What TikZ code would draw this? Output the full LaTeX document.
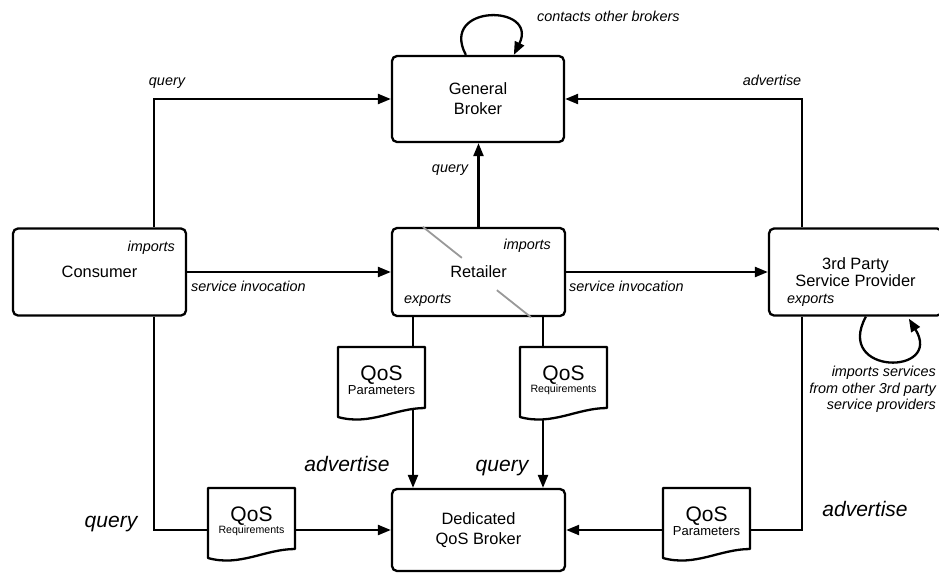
\documentclass[tikz,border=0pt]{standalone}
\usepackage{fontspec}
\setmainfont{Liberation Sans}
\usetikzlibrary{arrows.meta,calc}

% A QoS document: sheet with a wavy lower edge, and its two-line caption
\newcommand\qosdoc[4]{%
  \begin{scope}[shift={(#2,#3)}]
    \draw[docline] (0,0) -- (87,0) -- (87,61)
      .. controls (57,61) and (32,79) .. (0,70) -- cycle;
    \node[doctext, anchor=north] (#1) at (43.5,19)
      {{\fontsize{21}{21}\selectfont QoS}\\#4};
  \end{scope}}

\begin{document}
\begin{tikzpicture}[x=1pt, y=-1pt,
  box/.style={draw, rounded corners=5pt, line width=2.3pt, align=center,
    inner sep=0pt, font=\fontsize{16.4}{20}\selectfont},
  flow/.style={line width=2.3pt, -{Triangle[length=13pt,width=10pt]}},
  docline/.style={draw, fill=white, line width=2.3pt, line join=round},
  doctext/.style={align=center, inner sep=0pt},
  paramfont/.style={font=\fontsize{13}{16}\selectfont},
  reqfont/.style={font=\fontsize{10.6}{15}\selectfont},
  greyline/.style={draw=black!40, line width=1.8pt},
  lbl/.style={font=\fontsize{14.4}{16.5}\selectfont\itshape, inner sep=0pt},
  biglbl/.style={font=\fontsize{21}{24}\selectfont\itshape, inner sep=0pt}]

\useasboundingbox (0,0) rectangle (939,574);

% main parties
\node[box, minimum width=172pt, minimum height=86pt] (gb) at (478,99) {General\\Broker};
\node[box, minimum width=173pt, minimum height=88pt] (ret) at (478.5,272) {Retailer};
\node[box, minimum width=173pt, minimum height=87pt] (con) at (99.5,272) {Consumer};
\node[box, minimum width=173pt, minimum height=87pt,
      font=\fontsize{16.4}{16.7}\selectfont] (tps) at (855.5,272) {3rd Party\\Service Provider};
\node[box, minimum width=173pt, minimum height=82pt] (ded) at (478.5,530) {Dedicated\\QoS Broker};

% x positions of the vertical runs
\coordinate (cx) at (154,0);
\coordinate (tx) at (802,0);
\coordinate (rl) at (413,0);
\coordinate (rr) at (543,0);

% crossing strokes on the retailer
\draw[greyline] ($(ret.north west)+(32,0)$) -- ($(ret.north west)+(71,31)$);
\draw[greyline] ($(ret.south west)+(106,-27)$) -- ($(ret.south west)+(140,0)$);

% connectors
\draw[flow] (con.north -| cx) |- (gb.west);
\draw[flow] (tps.north -| tx) |- (gb.east);
\draw[flow] (ret.north) -- (ret.north |- gb.south);
\draw[flow] (con.east) -- (ret.west);
\draw[flow] (ret.east) -- (tps.west);
\draw[flow] (ret.south -| rl) -- (ded.north -| rl);
\draw[flow] (ret.south -| rr) -- (ded.north -| rr);
\draw[flow] (con.south -| cx) |- (ded.west);
\draw[flow] (tps.south -| tx) |- (ded.east);

% self loops
\draw[flow] ($(gb.north west)+(75,0)$) .. controls +(-27,-51) and +(25,-51) .. ($(gb.north west)+(123,0)$);
\draw[flow] ($(tps.south west)+(98,0)$) .. controls +(-32,59) and +(35,57) .. ($(tps.south west)+(141,2)$);

% QoS documents
\qosdoc{qpar}{338}{347}{\fontsize{13}{16}\selectfont Parameters}
\qosdoc{qreq}{520}{347}{\fontsize{10.6}{15}\selectfont Requirements}
\qosdoc{qreqc}{208}{488}{\fontsize{10.6}{15}\selectfont Requirements}
\qosdoc{qpart}{663}{488}{\fontsize{13}{16}\selectfont Parameters}

% labels
\node[lbl, anchor=base west] (lcontacts) at (537,21) {contacts other brokers};
\node[lbl, anchor=base] (lqtop) at (167,85) {query};
\node[lbl, anchor=base] (ladtop) at (772,85) {advertise};
\node[lbl, anchor=base] (lqret) at (450,172) {query};
\node[lbl, anchor=base east] (limpc) at (175,251) {imports};
\node[lbl, anchor=base west] (lsil) at (191,291) {service invocation};
\node[lbl, anchor=base east] (limpr) at (551,249) {imports};
\node[lbl, anchor=base west] (lexpr) at (404,303) {exports};
\node[lbl, anchor=base west] (lsir) at (569,291) {service invocation};
\node[lbl, anchor=base west] (lexpt) at (787,303) {exports};
\node[lbl, anchor=north east, align=right] (limps) at (936,366)
  {imports services\\from other 3rd party\\service providers};

\node[biglbl, anchor=base] (ladmid) at (347,471) {advertise};
\node[biglbl, anchor=base] (lqmid) at (502,471) {query};
\node[biglbl, anchor=base] (lqbot) at (111,527) {query};
\node[biglbl, anchor=base] (ladbot) at (865,516) {advertise};

\end{tikzpicture}
\end{document}
